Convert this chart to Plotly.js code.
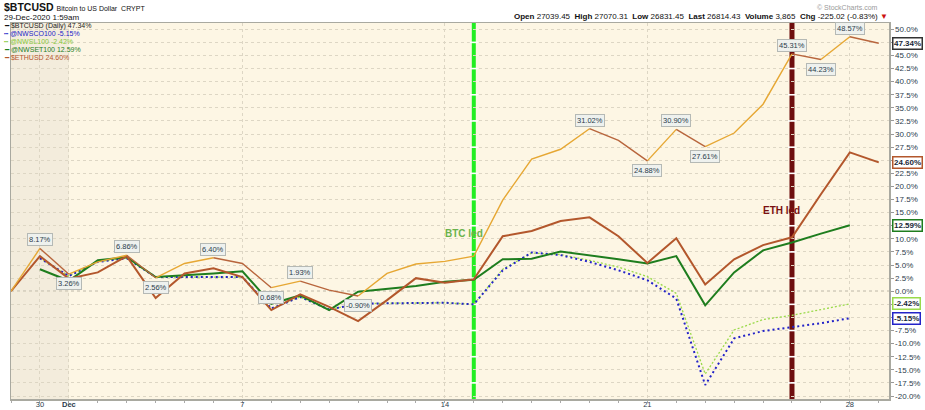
<!DOCTYPE html>
<html><head><meta charset="utf-8">
<script src="https://cdn.plot.ly/plotly-3.0.1.min.js"></script>
<style>body{margin:0;background:#fff}#chart{width:925px;height:410px}</style>
</head><body><div id="chart"></div>
<script>
// ---- data (percent change since 29-Nov-2020) ----
const dates = ['2020-11-29','2020-11-30','2020-12-01','2020-12-02','2020-12-03','2020-12-04','2020-12-05','2020-12-06',
  '2020-12-07','2020-12-08','2020-12-09','2020-12-10','2020-12-11','2020-12-12','2020-12-13','2020-12-14',
  '2020-12-15','2020-12-16','2020-12-17','2020-12-18','2020-12-19','2020-12-20','2020-12-21','2020-12-22',
  '2020-12-23','2020-12-24','2020-12-25','2020-12-26','2020-12-27','2020-12-28','2020-12-29'];
const btc   = [0, 8.17, 3.26, 5.6, 6.86, 2.56, 5.3, 6.40, 5.3, 0.68, 1.93, 0.2, -0.90, 3.4, 5.2, 5.7,
  6.7, 17.4, 25.2, 27.1, 31.02, 28.8, 24.88, 30.90, 27.61, 30.2, 35.7, 45.31, 44.23, 48.57, 47.34];
const eth   = [0, 6.7, 2.4, 3.6, 6.7, -1.3, 3.4, 4.4, 2.7, -3.6, -0.6, -3.0, -5.7, -1.7, 2.5, 1.6,
  2.3, 10.5, 11.5, 13.4, 14.1, 10.5, 5.4, 10.1, 1.3, 6.1, 8.8, 10.3, 18.5, 26.5, 24.60];
const nwset = [null, 4.2, 2.0, 5.9, 6.5, 2.7, 3.0, 3.4, 3.8, -2.4, -0.8, -3.6, -0.1, 0.5, 1.0, 1.8,
  2.2, 6.1, 6.2, 7.6, 6.9, 6.1, 5.3, 6.7, -2.7, 3.6, 7.8, 9.3, 11.0, 12.59, null];
const nwsco = [null, 6.3, 2.9, 5.6, 6.3, 2.7, 2.7, 2.7, 2.7, -3.3, -1.1, -3.5, -2.4, -2.3, -2.3, -2.2,
  -2.5, 4.0, 7.4, 6.9, 5.6, 4.0, 2.1, -1.4, -17.9, -9.0, -7.6, -6.9, -6.1, -5.15, null];
const nwsl  = [null, 6.3, 2.9, 5.6, 6.3, 2.7, 2.7, 2.7, 2.7, -3.3, -1.1, -3.5, -2.4, -2.3, -2.3, -2.2,
  -2.5, 4.2, 7.3, 7.0, 5.9, 4.6, 2.8, -0.4, -15.8, -7.4, -5.4, -4.6, -3.5, -2.42, null];

const seriesNames = ['$BTCUSD (Daily)', '@NWSCO100', '@NWSL100', '@NWSET100', '$ETHUSD'];
const calloutIdx = [1, 2, 4, 5, 7, 9, 10, 12, 20, 22, 23, 24, 27, 28, 29];
const xTickVals = ['2020-11-30','2020-12-01','2020-12-07','2020-12-14','2020-12-21','2020-12-28'];
const xTickText = ['30','<b>Dec</b>','7','14','21','28'];
const eventDates = ['2020-12-15','2020-12-26'];
const eventLabels = ['BTC led','ETH led'];
const eventLabelY = [11.1, 15.5];

// ---- styles ----
const C = {up:'#e6a733', down:'#b8653c', eth:'#b3572c', set:'#1e7d1e', co:'#2323c8', sl:'#9ada4a',
  evt:['#22ee22','#6e0e0e'], evtText:['#6ab24c','#7a1010']};

function lastVal(a){ for(let i=a.length-1;i>=0;i--) if(a[i]!==null) return a[i]; return null; }
const seriesData = [btc, nwsco, nwsl, nwset, eth];
const seriesColors = ['#222222', C.co, '#86c83a', C.set, C.eth];
const seriesIcons = ['━','┅','┅','━','━'];
const lastVals = seriesData.map(lastVal);

// BTC line coloured by direction
function dirSeg(up){
  const xs=[], ys=[];
  for(let i=0;i<btc.length-1;i++){
    const isUp = btc[i+1] >= btc[i];
    if(isUp!==up) continue;
    if(xs.length && xs[xs.length-1]===dates[i]){ xs.push(dates[i+1]); ys.push(btc[i+1]); }
    else { if(xs.length){xs.push(null);ys.push(null);} xs.push(dates[i],dates[i+1]); ys.push(btc[i],btc[i+1]); }
  }
  return {xs, ys};
}
const upS = dirSeg(true), dnS = dirSeg(false);

const traces = [
  {x:dates, y:nwsl, mode:'lines', line:{color:C.sl, width:1.3, dash:'2px,2px'}, connectgaps:false},
  {x:dates, y:nwsco, mode:'lines', line:{color:C.co, width:2, dash:'2px,3px'}, connectgaps:false},
  {x:dates, y:nwset, mode:'lines', line:{color:C.set, width:2}, connectgaps:false},
  {x:dates, y:eth, mode:'lines', line:{color:C.eth, width:2}},
  {x:upS.xs, y:upS.ys, mode:'lines', line:{color:C.up, width:1.4}},
  {x:dnS.xs, y:dnS.ys, mode:'lines', line:{color:C.down, width:1.4}}
];

// right axis ticks; labels hidden behind the value tags are left blank
const yTickVals=[], yTickText=[];
for(let v=-20; v<=50.001; v+=2.5){
  yTickVals.push(v);
  const hidden = lastVals.some(t => Math.abs(t - v) < 1.0);
  yTickText.push(hidden ? '' : v.toFixed(1)+'%');
}

const shapes = [
  {type:'rect', xref:'x', yref:'paper', x0:dates[0], x1:xTickVals[1], y0:0, y1:1, fillcolor:'#f3ecdc', line:{width:0}, layer:'below'},
  {type:'line', xref:'paper', yref:'y', x0:0, x1:1, y0:0, y1:0, line:{color:'#bdb8aa', width:1.5, dash:'dot'}, layer:'below'}
];
eventDates.forEach((d,k)=>{
  shapes.push({type:'line', xref:'x', yref:'paper', x0:d, x1:d, y0:0, y1:1, line:{color:C.evt[k], width:k?5:4}, layer:'between'});
  for(let v=-17.5; v<=47.5; v+=5){
    shapes.push({type:'rect', xref:'x', yref:'y', xsizemode:'pixel', ysizemode:'pixel', xanchor:d, yanchor:v,
      x0:-4, x1:4, y0:-0.8, y1:0.8, fillcolor:'#ffffff', line:{width:0}, layer:'between'});
  }
});

const annotations = [];
// event labels
eventDates.forEach((d,k)=>{
  annotations.push({x:d, y:eventLabelY[k], xref:'x', yref:'y', text:'<b>'+eventLabels[k]+'</b>', showarrow:false,
    xshift:-10, font:{size:10, color:C.evtText[k]}});
});
// callouts on BTC
calloutIdx.forEach(i=>{
  const v = btc[i];
  const prev = btc[i-1], next = btc[i+1]===undefined ? -Infinity : btc[i+1];
  const peak = v >= prev && v >= next;
  annotations.push({x:dates[i], y:v, xref:'x', yref:'y', text:v.toFixed(2)+'%', showarrow:false,
    yanchor: peak?'bottom':'top', yshift: peak?2:-3,
    font:{size:7.5, color:'#2c3c4c'}, bgcolor:'#eef1ee', bordercolor:'#b5b9b5', borderwidth:1, borderpad:1});
});
// right-side last value tags
seriesData.forEach((a,k)=>{
  const v = lastVals[k];
  annotations.push({x:1, y:v, xref:'paper', yref:'y', text:'<b>'+v.toFixed(2)+'%</b>', showarrow:false,
    xanchor:'left', xshift:3, font:{size:8, color:'#1a2838'}, bgcolor:'#ffffff',
    bordercolor: k===0?'#333333':(k===2?C.sl:seriesColors[k]), borderwidth:1.5, borderpad:0.5});
});
// legend
const legY = [-2.5,-10.5,-18.5,-26.5,-34.5];
seriesData.forEach((a,k)=>{
  const v = lastVals[k];
  const col = seriesColors[k];
  annotations.push({x:0, y:1, xref:'paper', yref:'paper', xanchor:'left', yanchor:'middle', xshift:-8, yshift:legY[k],
    showarrow:false, align:'left', borderpad:0,
    text:'<span style="color:'+(k===0?'#111':col)+'">'+seriesIcons[k]+'</span> <span style="color:'+col+'">'+seriesNames[k]+' '+v.toFixed(2)+'%</span>',
    font:{size:7, color:col}});
});
// header
annotations.push({x:0, y:1, xref:'paper', yref:'paper', xanchor:'left', yanchor:'middle', xshift:-9, yshift:16, showarrow:false,
  text:'<b>$BTCUSD</b> <span style="font-size:7px">Bitcoin to US Dollar  CRYPT</span>', font:{size:10.5, color:'#111'}});
annotations.push({x:0, y:1, xref:'paper', yref:'paper', xanchor:'left', yanchor:'middle', xshift:-9, yshift:5.5, showarrow:false,
  text:'29-Dec-2020 1:59am', font:{size:8, color:'#111'}});
annotations.push({x:1, y:1, xref:'paper', yref:'paper', xanchor:'right', yanchor:'middle', xshift:-9, yshift:16, showarrow:false,
  text:'© StockCharts.com', font:{size:7, color:'#9a9a9a'}});
annotations.push({x:1, y:1, xref:'paper', yref:'paper', xanchor:'right', yanchor:'middle', xshift:1, yshift:7, showarrow:false,
  text:'<b>Open</b> 27039.45  <b>High</b> 27070.31  <b>Low</b> 26831.45  <b>Last</b> 26814.43  <b>Volume</b> 3,865  <b>Chg</b> -225.02 (-0.83%) <span style="color:#cc1111">▼</span>',
  font:{size:8, color:'#111'}});

const layout = {
  width:925, height:410,
  margin:{l:11, r:36, t:23, b:11, pad:0},
  paper_bgcolor:'#ffffff', plot_bgcolor:'#fdf6e4',
  showlegend:false,
  font:{family:'"Liberation Sans", Arial, sans-serif', size:8, color:'#333'},
  xaxis:{type:'date', range:['2020-11-29','2020-12-29 08:30'], tickvals:xTickVals, ticktext:xTickText,
    showgrid:true, gridcolor:'#ddd6c4', griddash:'dot', gridwidth:1,
    ticks:'outside', ticklen:2, tickcolor:'#aaa', showline:true, linecolor:'#a9a9a0', linewidth:1.5, mirror:true,
    tickfont:{size:7.5, color:'#2c3c4c'}, zeroline:false, ticklabelstandoff:-5,
    minor:{dtick:86400000, ticks:'outside', ticklen:2, tickcolor:'#aaa', showgrid:false}},
  yaxis:{side:'right', range:[-20.57, 51.2], tickvals:yTickVals, ticktext:yTickText,
    showgrid:true, gridcolor:'#ddd6c4', griddash:'dot', gridwidth:1,
    ticks:'outside', ticklen:3, tickcolor:'#999', showline:true, linecolor:'#a9a9a0', linewidth:1.5, mirror:true,
    tickfont:{size:8, color:'#2c3c4c'}, zeroline:false},
  shapes:shapes, annotations:annotations
};

Plotly.newPlot('chart', traces, layout, {displayModeBar:false, staticPlot:true});
</script>
</body></html>
